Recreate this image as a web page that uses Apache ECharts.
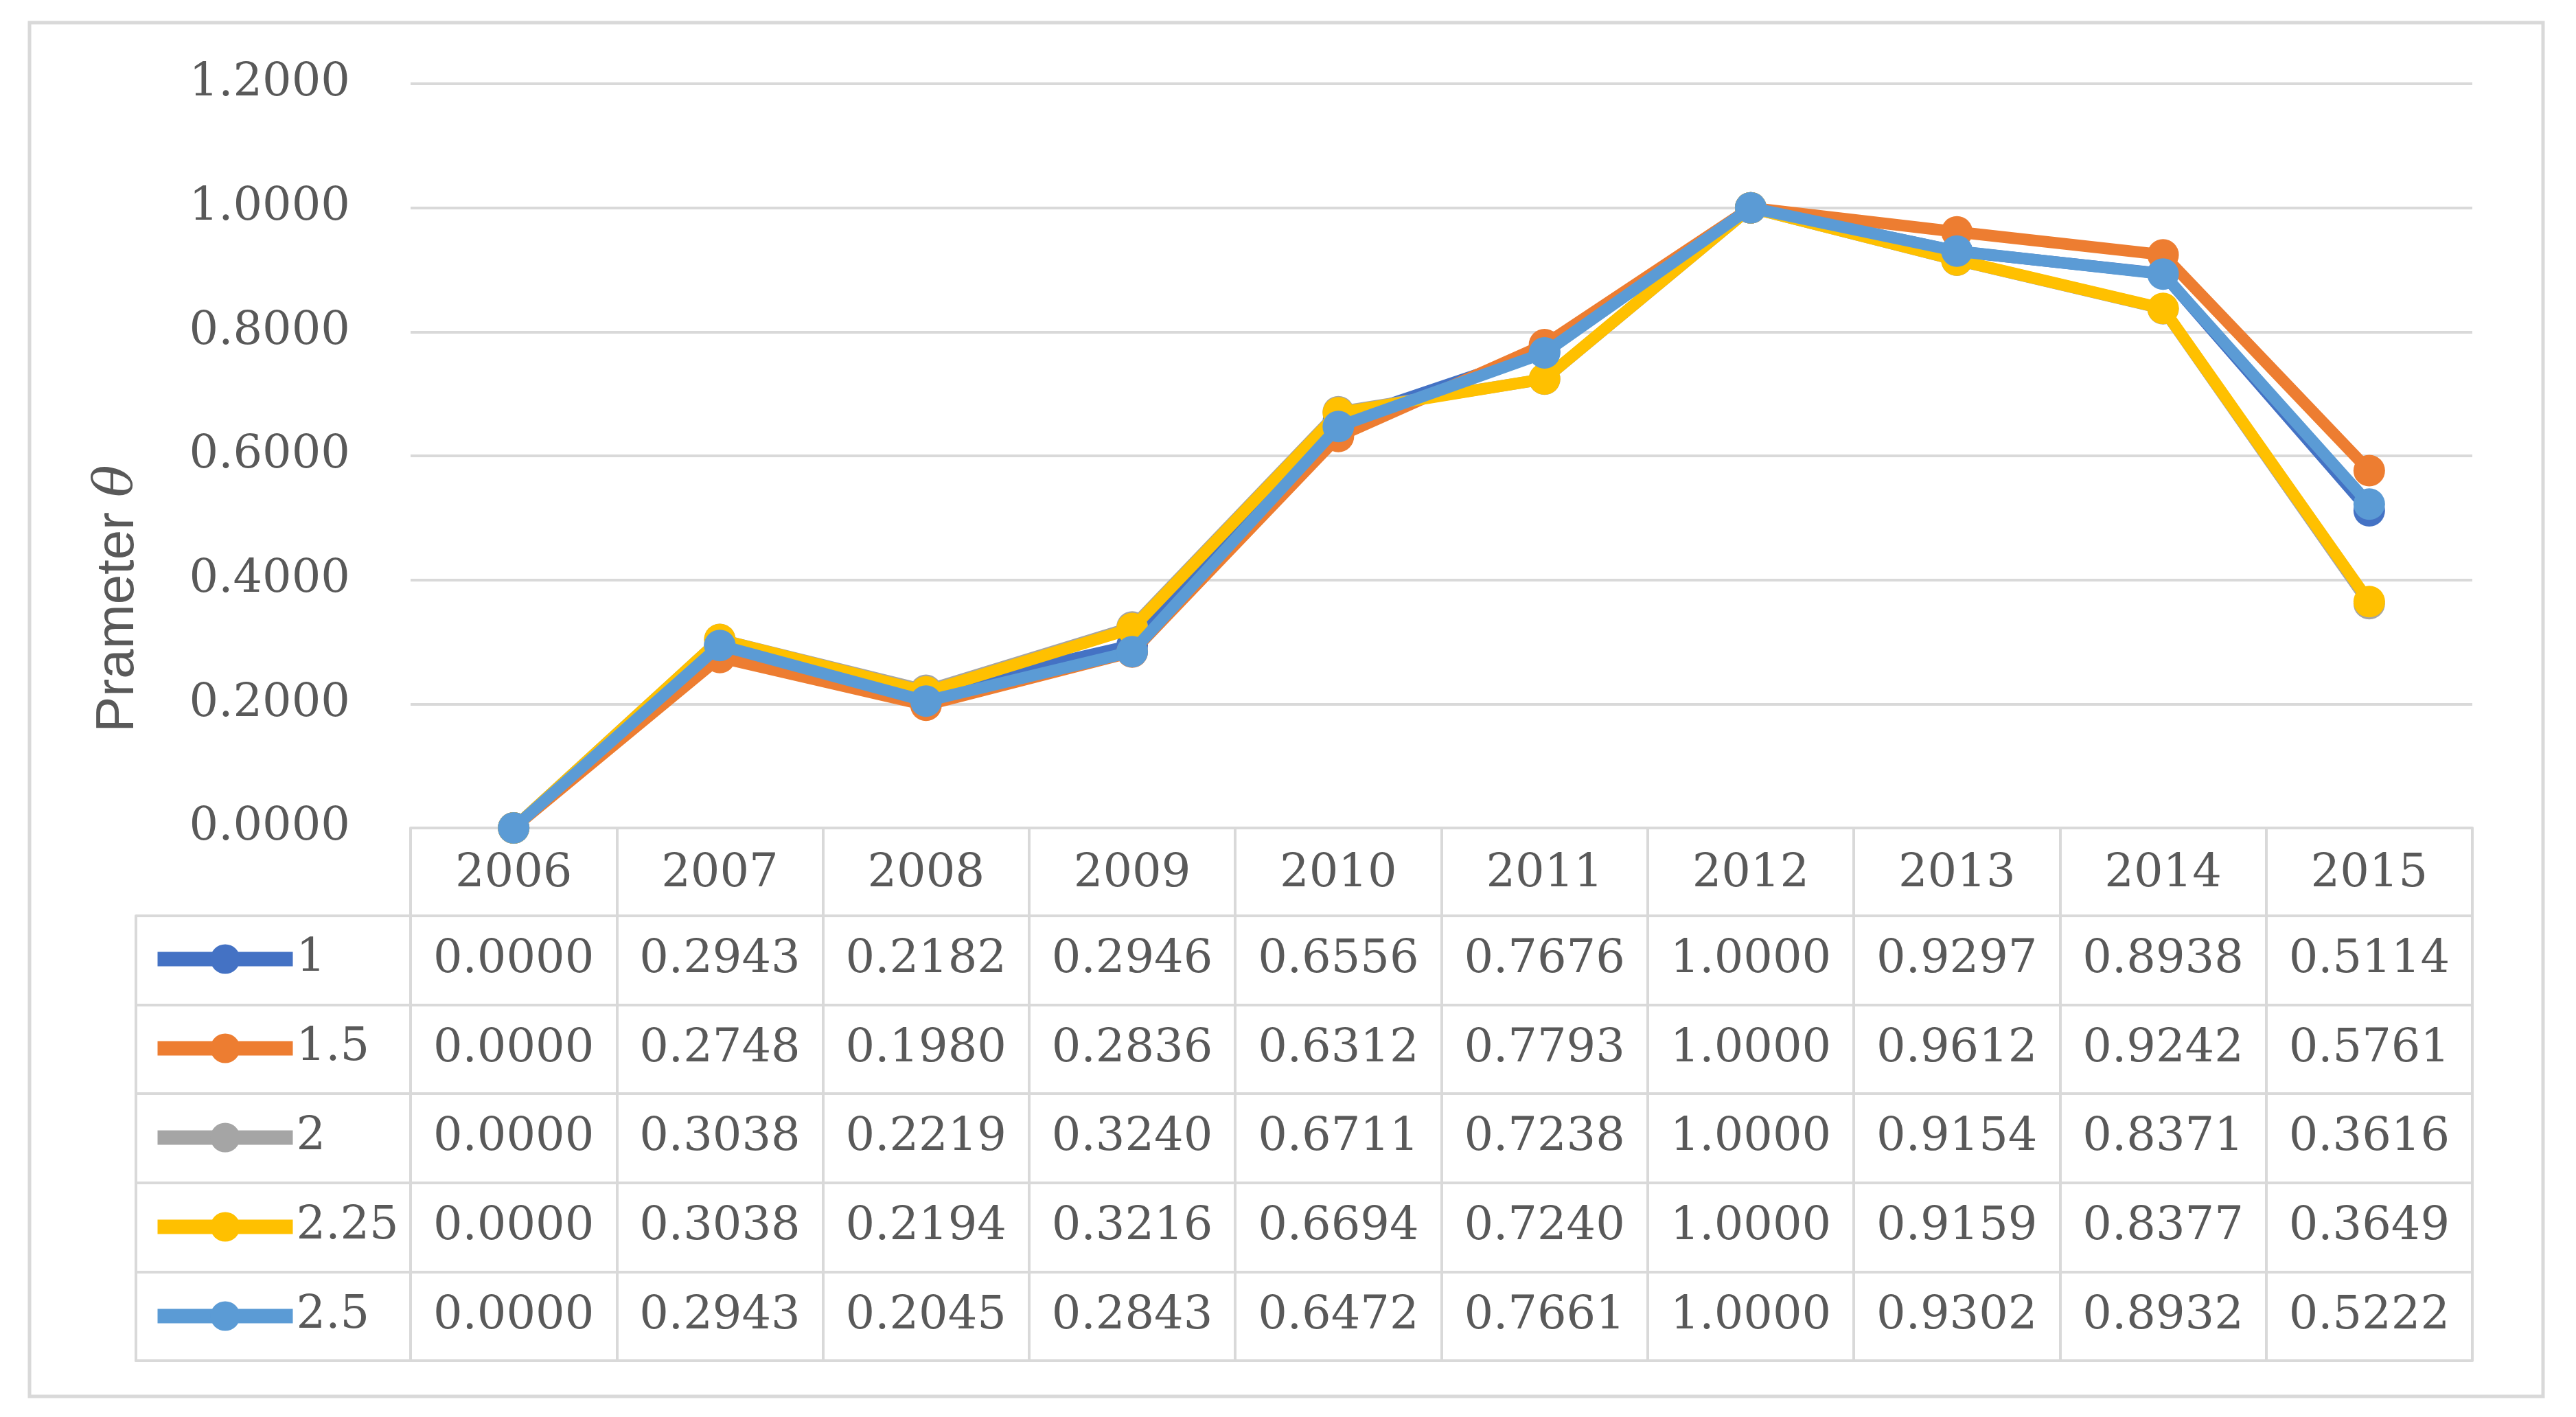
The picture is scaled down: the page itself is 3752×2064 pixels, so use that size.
<!DOCTYPE html>
<html>
<head>
<meta charset="utf-8">
<script src="https://cdn.jsdelivr.net/npm/echarts@6/dist/echarts.min.js"></script>
<style>
html,body{margin:0;padding:0;background:#fff;}
#chart{width:3752px;height:2064px;}
</style>
</head>
<body>
<div id="chart"></div>
<script>
const years = ['2006','2007','2008','2009','2010','2011','2012','2013','2014','2015'];
const seriesNames = ['1','1.5','2','2.25','2.5'];
const s1   = [0.0000,0.2943,0.2182,0.2946,0.6556,0.7676,1.0000,0.9297,0.8938,0.5114];
const s15  = [0.0000,0.2748,0.1980,0.2836,0.6312,0.7793,1.0000,0.9612,0.9242,0.5761];
const s2   = [0.0000,0.3038,0.2219,0.3240,0.6711,0.7238,1.0000,0.9154,0.8371,0.3616];
const s225 = [0.0000,0.3038,0.2194,0.3216,0.6694,0.7240,1.0000,0.9159,0.8377,0.3649];
const s25  = [0.0000,0.2943,0.2045,0.2843,0.6472,0.7661,1.0000,0.9302,0.8932,0.5222];
const yTicks = [0, 0.2, 0.4, 0.6, 0.8, 1.0, 1.2];
const colors = ['#4472C4','#ED7D31','#A5A5A5','#FFC000','#5B9BD5'];
const yTitle = 'Prameter ';
const yTitleSym = 'θ';

const allSeries = [s1, s15, s2, s225, s25];
const txtColor = '#595959';
const lineCol = '#d9d9d9';
const numFont = 'DejaVu Serif';
const numSize = 67;

const tableCells = [];
allSeries.forEach((arr, r) => arr.forEach((v, c) => tableCells.push([c, r, v])));

const chart = echarts.init(document.getElementById('chart'));

const lineSeries = allSeries.map((arr, i) => ({
  name: seriesNames[i],
  type: 'line',
  xAxisIndex: 0, yAxisIndex: 0,
  data: arr,
  symbol: 'circle',
  symbolSize: 46,
  showSymbol: true,
  lineStyle: { width: 17, color: colors[i] },
  itemStyle: { color: colors[i] },
  z: 2 + i,
  animation: false
}));

const option = {
  animation: false,
  backgroundColor: '#ffffff',
  color: colors,
  graphic: [
    { type: 'rect', shape: { x: 43, y: 33, width: 3661, height: 2001 },
      style: { fill: 'none', stroke: lineCol, lineWidth: 5 }, z: -1 },
    { type: 'text', x: 172, y: 872, rotation: Math.PI / 2,
      style: {
        text: '{a|' + yTitle + '}{b|' + yTitleSym + '}',
        align: 'center', verticalAlign: 'middle',
        rich: {
          a: { fontFamily: 'Liberation Sans', fontSize: 78, fill: txtColor, color: txtColor },
          b: { fontFamily: 'DejaVu Serif', fontStyle: 'italic', fontSize: 78, fill: txtColor, color: txtColor }
        }
      } }
  ],
  legend: {
    data: seriesNames,
    orient: 'vertical',
    left: 219,
    top: 1363,
    padding: 0,
    itemWidth: 197,
    itemHeight: 54,
    itemGap: 62,
    lineStyle: { width: 21 },
    textStyle: { fontFamily: numFont, fontSize: numSize, color: txtColor, lineHeight: 68, padding: [0,0,0,0] },
    selectedMode: false
  },
  grid: [
    { left: 598, top: 122, width: 3003, height: 1084 },
    { left: 598, top: 1334, width: 3003, height: 648 },
    { left: 198, top: 1334, width: 400, height: 648 }
  ],
  xAxis: [
    { type: 'category', gridIndex: 0, data: years, boundaryGap: true,
      axisLine: { show: true, lineStyle: { color: lineCol, width: 4 } },
      axisTick: { show: true, length: 128, interval: 0, lineStyle: { color: lineCol, width: 4 } },
      axisLabel: { margin: 68, verticalAlign: 'middle', fontFamily: numFont, fontSize: numSize, color: txtColor, interval: 0 },
      splitLine: { show: false } },
    { type: 'category', gridIndex: 1, data: years, boundaryGap: true,
      axisLine: { show: true, lineStyle: { color: lineCol, width: 4 } },
      axisTick: { show: false }, axisLabel: { show: false },
      splitLine: { show: true, interval: 0, lineStyle: { color: lineCol, width: 4 } } },
    { type: 'category', gridIndex: 2, data: [''], boundaryGap: true,
      axisLine: { show: true, lineStyle: { color: lineCol, width: 4 } },
      axisTick: { show: false }, axisLabel: { show: false },
      splitLine: { show: true, interval: 0, lineStyle: { color: lineCol, width: 4 } } }
  ],
  yAxis: [
    { type: 'value', gridIndex: 0, min: yTicks[0], max: yTicks[yTicks.length - 1], interval: 0.2,
      axisLine: { show: false }, axisTick: { show: false },
      axisLabel: { margin: 88, fontFamily: numFont, fontSize: numSize, color: txtColor,
        formatter: v => v.toFixed(4) },
      splitLine: { show: true, lineStyle: { color: lineCol, width: 4 } } },
    { type: 'category', gridIndex: 1, data: seriesNames, inverse: true, boundaryGap: true,
      axisLine: { show: true, lineStyle: { color: lineCol, width: 4 } },
      axisTick: { show: false }, axisLabel: { show: false },
      splitLine: { show: true, interval: 0, lineStyle: { color: lineCol, width: 4 } } },
    { type: 'category', gridIndex: 2, data: seriesNames, inverse: true, boundaryGap: true,
      axisLine: { show: true, lineStyle: { color: lineCol, width: 4 } },
      axisTick: { show: false }, axisLabel: { show: false },
      splitLine: { show: true, interval: 0, lineStyle: { color: lineCol, width: 4 } } }
  ],
  series: lineSeries.concat([
    {
      name: 'table', type: 'custom', xAxisIndex: 1, yAxisIndex: 1,
      data: tableCells,
      encode: { x: 0, y: 1 },
      renderItem: function (params, api) {
        const p = api.coord([api.value(0), api.value(1)]);
        return {
          type: 'text', x: p[0], y: p[1],
          style: { text: Number(api.value(2)).toFixed(4), align: 'center', verticalAlign: 'middle',
            fontFamily: numFont, fontSize: numSize, fill: txtColor }
        };
      },
      animation: false
    }
  ])
};
chart.setOption(option);
</script>
</body>
</html>
